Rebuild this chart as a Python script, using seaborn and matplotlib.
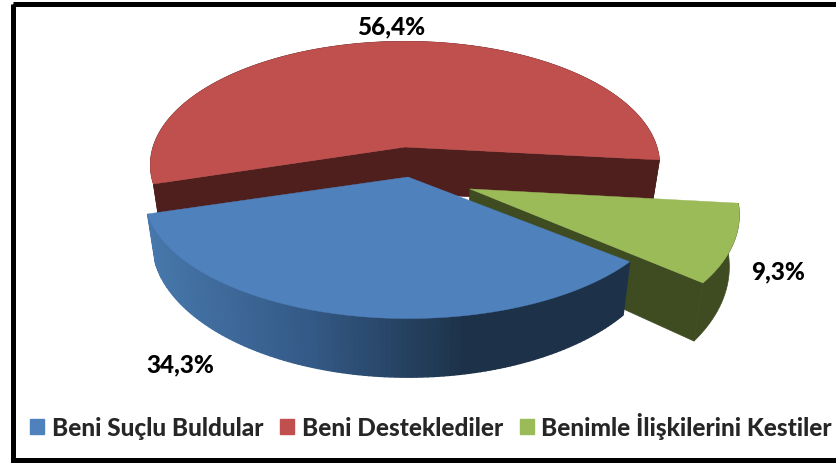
#%% imports
import numpy as np
import matplotlib
matplotlib.use("Agg")
import matplotlib.pyplot as plt
from matplotlib.patches import Patch, Rectangle
import seaborn as sns

#%% data
labels = ["Beni Suçlu Buldular", "Beni Desteklediler", "Benimle İlişkilerini Kestiler"]
shares = [34.3, 56.4, 9.3]
top_colors = ["#4F81BD", "#C0504D", "#9BBB59"]
wall_colors = ["#1D3249", "#4F1F1E", "#3F4C22"]
blue_wall = ["#4777AB", "#345A87", "#1D3249", "#1D3249"]

#%% setup
sns.set_theme(style="white")
plt.rcParams["font.family"] = ["Lato", "DejaVu Sans"]

fig, ax = plt.subplots(figsize=(8.36, 4.64), dpi=100)
ax.set_position([0, 0, 1, 1])
ax.set_xlim(0, 836)
ax.set_ylim(464, 0)
ax.axis("off")

# perspective settings for the squashed pie
cx, cy = 405, 148
rx, ry = 252, 121
k = 0.145
m = 0.03
depth = 46
start = 320.5
offset_unit = [(0, 0), (0, 0), (0.245, -0.33)]
offset_px = [(3, 30), (0, 0), (0, 0)]
stretch = [1.035, 1, 1]


def project(u, v, z, i):
    u = u * stretch[i] + offset_unit[i][0]
    v = v + offset_unit[i][1]
    s = 1 / (1 + k * v)
    x = cx + rx * u * s * (1 - m * z) + offset_px[i][0]
    y = cy - ry * v * s * (1 - m * z) + depth * z * s ** 2 + offset_px[i][1]
    return x, y


# clockwise from the start angle, each slice takes its share of 360 degrees
bounds = start - np.concatenate([[0], np.cumsum(shares)]) * 3.6
arcs = [np.radians(np.linspace(bounds[i], bounds[i + 1], 120)) for i in range(3)]


def radial_face(i, theta):
    u, v = np.cos(theta), np.sin(theta)
    p = [project(0, 0, 0, i), project(u, v, 0, i), project(u, v, 1, i), project(0, 0, 1, i)]
    ax.fill(*zip(*p), color=wall_colors[i], lw=0.5)


def outer_wall(i, cmap=None):
    t = arcs[i]
    u, v = np.cos(t), np.sin(t)
    xt, yt = project(u, v, 0, i)
    xb, yb = project(u, v, 1, i)
    if cmap is None:
        ax.fill(np.r_[xt, xb[::-1]], np.r_[yt, yb[::-1]], color=wall_colors[i], lw=0.5)
        return
    # gradient along x for the blue slice
    lo, hi = xt.min(), xt.max()
    for j in range(len(t) - 1):
        c = cmap((xt[j] - lo) / (hi - lo))
        ax.fill([xt[j], xt[j + 1], xb[j + 1], xb[j]], [yt[j], yt[j + 1], yb[j + 1], yb[j]], color=c, lw=1)


def top_face(i):
    t = arcs[i]
    x, y = project(np.cos(t), np.sin(t), 0, i)
    ax_, ay_ = project(0, 0, 0, i)
    ax.fill(np.r_[ax_, x], np.r_[ay_, y], color=top_colors[i], lw=0.3)


#%% draw back to front: red, green, blue
radial_face(1, arcs[1][0])
radial_face(1, arcs[1][-1])
outer_wall(1)
top_face(1)

radial_face(2, arcs[2][-1])
outer_wall(2)
top_face(2)

outer_wall(0, sns.blend_palette(blue_wall, as_cmap=True))
top_face(0)

#%% percent labels
pct_pos = [(180, 365), (391, 27), (778, 272)]
for s, (x, y) in zip(shares, pct_pos):
    ax.text(x, y, f"{s:.1f}%".replace(".", ","), ha="center", va="center",
            fontsize=17.5, fontweight="black", color="black")

#%% legend and frame
handles = [Patch(color=c, label=l) for c, l in zip(top_colors, labels)]
ax.legend(handles=handles, ncol=3, loc="center left", bbox_to_anchor=(30 / 836, 1 - 427 / 464),
          frameon=False, borderpad=0, borderaxespad=0, handlelength=0.58, handleheight=0.58,
          handletextpad=0.3, columnspacing=0.7,
          prop={"size": 17.6, "weight": "black"})

ax.add_patch(Rectangle((12.5, 4.5), 840, 456.5, fill=False, ec="black", lw=3.6, clip_on=True))

fig.savefig("out.png", dpi=100)
